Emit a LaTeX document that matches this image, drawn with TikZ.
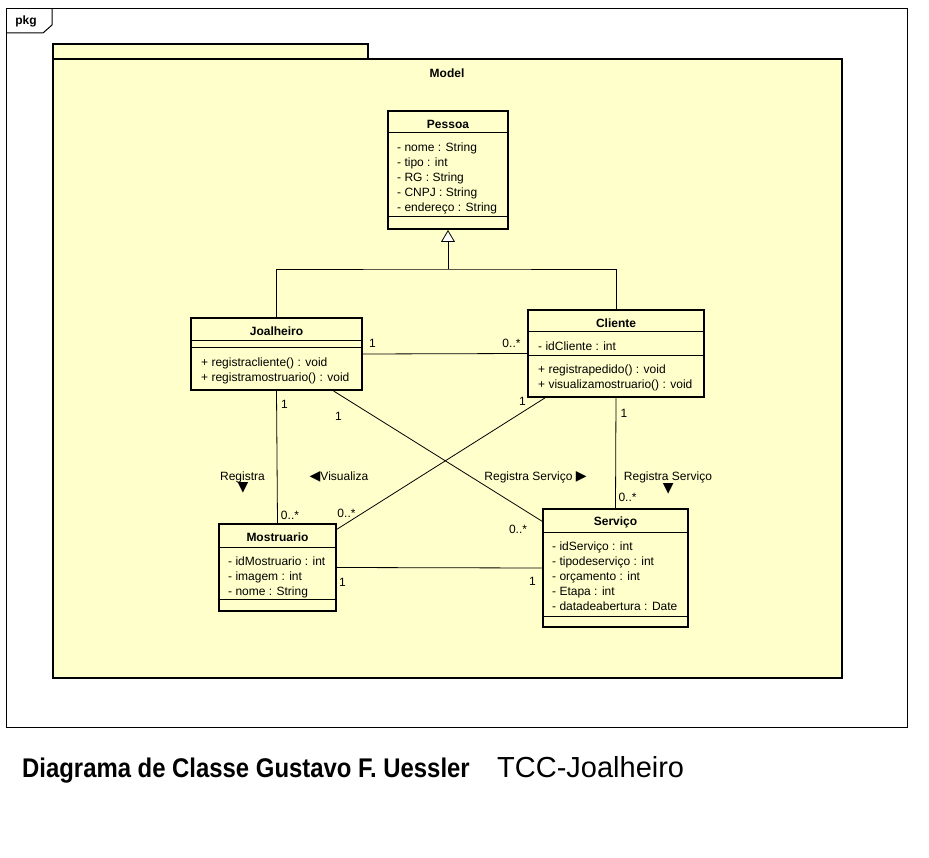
\documentclass[tikz,border=0pt]{standalone}
\usepackage{fontspec}
\setmainfont{Liberation Sans}
\newfontfamily\symfont{DejaVu Sans}
\newfontfamily\capfont[FakeStretch=0.885]{Liberation Sans}
\usetikzlibrary{arrows.meta, calc}
\definecolor{umlyellow}{HTML}{FFFFCC}

\begin{document}
\begin{tikzpicture}[
    x=1pt, y=-1pt,
    font=\fontsize{12}{15}\selectfont,
    frame/.style={draw=black, line width=1pt},
    pack/.style={draw=black, line width=2pt, fill=umlyellow},
    cls/.style={rectangle, draw=black, line width=2pt, fill=umlyellow, inner sep=0pt},
    sep/.style={draw=black, line width=1pt},
    ctitle/.style={font=\fontsize{12}{15}\selectfont\bfseries, inner sep=0pt},
    members/.style={anchor=north west, align=left, inner sep=0pt},
    assoc/.style={draw=black, line width=0.8pt},
    mult/.style={inner sep=0pt},
    dir/.style={inner sep=0pt, font=\symfont\fontsize{14}{14}\selectfont}
]

% Page
\fill[white] (0,0) rectangle (929,858);
\useasboundingbox (0,0) rectangle (929,858);

% Outer pkg frame
\draw[frame] (6,9) rectangle (907,727);
\draw[frame] (52,9) -- (52,25) -- (43,33) -- (6,33);
\node[font=\fontsize{12}{15}\selectfont\bfseries, inner sep=0pt] (pkg) at (26,21) {pkg};

% Model package
\filldraw[pack] (53,44) rectangle (368,59);
\filldraw[pack] (53,59) rectangle (842,678);
\node[ctitle] (model) at (447,73) {Model};

% Classes
\node[cls, minimum width=120pt, minimum height=118pt] (pessoa) at (448,170) {};
\node[cls, minimum width=171pt, minimum height=72pt] (joal) at (276.5,354) {};
\node[cls, minimum width=176pt, minimum height=87pt] (cli) at (616,353.5) {};
\node[cls, minimum width=117pt, minimum height=87pt] (mos) at (277.5,567.5) {};
\node[cls, minimum width=145pt, minimum height=118pt] (serv) at (615.5,568) {};

% Compartments
\draw[sep] ($(pessoa.north west)+(0,23)$) -- ($(pessoa.north east)+(0,23)$);
\draw[sep] ($(pessoa.north west)+(0,107)$) -- ($(pessoa.north east)+(0,107)$);
\draw[sep] ($(joal.north west)+(0,24)$) -- ($(joal.north east)+(0,24)$);
\draw[sep] ($(joal.north west)+(0,31)$) -- ($(joal.north east)+(0,31)$);
\draw[sep] ($(cli.north west)+(0,23)$) -- ($(cli.north east)+(0,23)$);
\draw[sep] ($(cli.north west)+(0,47)$) -- ($(cli.north east)+(0,47)$);
\draw[sep] ($(mos.north west)+(0,24)$) -- ($(mos.north east)+(0,24)$);
\draw[sep] ($(mos.north west)+(0,76)$) -- ($(mos.north east)+(0,76)$);
\draw[sep] ($(serv.north west)+(0,24)$) -- ($(serv.north east)+(0,24)$);
\draw[sep] ($(serv.north west)+(0,108)$) -- ($(serv.north east)+(0,108)$);

% Names and members
\node[ctitle] (pessoaT) at (448,124) {Pessoa};
\node[members] (pessoaA) at (397,142.3) {- nome : String\\- tipo : int\\- RG : String\\- CNPJ : String\\- endereço : String};

\node[ctitle] (joalT) at (276.5,331) {Joalheiro};
\node[members] (joalM) at (201,357.3) {+ registracliente() : void\\+ registramostruario() : void};

\node[ctitle] (cliT) at (616,323) {Cliente};
\node[members] (cliA) at (538,341.3) {- idCliente : int};
\node[members] (cliM) at (538,364.3) {+ registrapedido() : void\\+ visualizamostruario() : void};

\node[ctitle] (mosT) at (277.5,537) {Mostruario};
\node[members] (mosA) at (228,556.3) {- idMostruario : int\\- imagem : int\\- nome : String};

\node[ctitle] (servT) at (615.5,522) {Serviço};
\node[members] (servA) at (552,541.3) {- idServiço : int\\- tipodeserviço : int\\- orçamento : int\\- Etapa : int\\- datadeabertura : Date};

% Generalization
\coordinate (gen) at ($(pessoa.south)+(0,39)$);
\draw[assoc] (joal.north) |- (gen) -| (cli.north);
\draw[assoc, -{Triangle[fill=white, length=12pt, width=14pt, line width=0.8pt]}] (gen) -- (pessoa.south);

% Associations
\draw[assoc] (joal.east) -- (cli.west);
\draw[assoc] (joal.south) -- (mos.north);
\draw[assoc] (cli.south) -- (serv.north);
\draw[assoc] (mos.east) -- (serv.west);
\draw[assoc] ($(joal.south west)!0.83!(joal.south east)$) -- ($(serv.north west)!0.11!(serv.south west)$);
\draw[assoc] ($(cli.south west)!0.1!(cli.south east)$) -- ($(mos.north east)!0.07!(mos.south east)$);

% Multiplicities
\node[mult] (m1) at (372.5,343) {1};
\node[mult] (m2) at (511.5,343) {0..*};
\node[mult] (m3) at (284.5,404) {1};
\node[mult] (m4) at (290,515) {0..*};
\node[mult] (m5) at (338.5,416) {1};
\node[mult] (m6) at (518,529) {0..*};
\node[mult] (m7) at (522.5,401) {1};
\node[mult] (m8) at (346.5,513) {0..*};
\node[mult] (m9) at (624,413) {1};
\node[mult] (m10) at (627.5,497) {0..*};
\node[mult] (m11) at (342.5,582) {1};
\node[mult] (m12) at (532.5,581) {1};

% Association names
\node[mult] (regA) at (242.5,477) {Registra};
\node[dir] (regAdir) at (243,488) {▼};
\node[mult] (visu) at (339,477) {{\symfont\fontsize{14}{14}\selectfont ◀}Visualiza};
\node[mult] (regS) at (535.5,477) {Registra Serviço {\symfont\fontsize{14}{14}\selectfont ▶}};
\node[mult] (regC) at (668,477) {Registra Serviço};
\node[dir] (regCdir) at (668.3,488.5) {▼};

% Caption
\node[anchor=base west, inner sep=0pt, font=\capfont\bfseries\fontsize{27}{31}\selectfont] (cap1) at (22,777) {Diagrama de Classe Gustavo F. Uessler};
\node[anchor=base west, inner sep=0pt, font=\fontsize{29}{33}\selectfont] (cap2) at (497,777) {TCC-Joalheiro};

\end{tikzpicture}
\end{document}
